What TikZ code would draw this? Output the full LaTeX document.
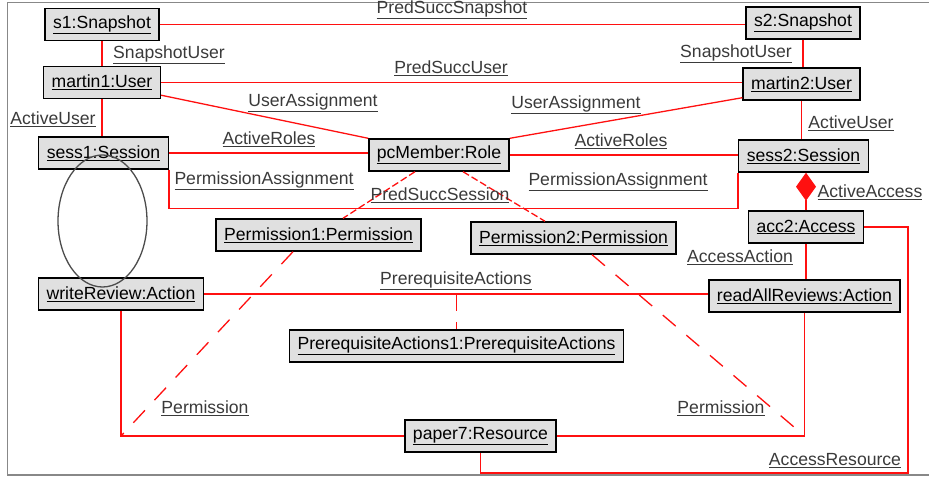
\documentclass[tikz,border=0pt]{standalone}
\usepackage{fontspec}
\setmainfont{Liberation Sans}
\usetikzlibrary{arrows.meta,calc}
\definecolor{objfill}{HTML}{E0E0E0}
\definecolor{lblgray}{HTML}{3A3A3A}
\definecolor{linkred}{HTML}{FF1010}
\definecolor{framegray}{HTML}{888888}
\newcommand\myul[1]{\underline{#1}}
\begin{document}
\begin{tikzpicture}[x=1pt,y=-1pt,
  obj/.style={draw=black, line width=1.4pt, fill=objfill, minimum height=32pt,
    inner xsep=8pt, inner ysep=0pt, font=\fontsize{17.6}{20}\selectfont},
  lbl/.style={text=lblgray, inner sep=0pt, font=\fontsize{17.6}{20}\selectfont},
  lnk/.style={draw=linkred, line width=1.3pt},
  fine/.style={lnk, dash pattern=on 7pt off 3pt},
  longdash/.style={lnk, dash pattern=on 17pt off 14pt}]
\useasboundingbox (0,0) rectangle (929,478);
\draw[framegray, line width=1.5pt] (929,2.5) -- (7.5,2.5) -- (7.5,475) -- (929,475);
% nodes
\node[obj] (s1) at (102,24.5) {\myul{s1:Snapshot}};
\node[obj] (s2) at (803,23) {\myul{s2:Snapshot}};
\node[obj] (martin1) at (102,82.5) {\myul{martin1:User}};
\node[obj] (martin2) at (801.5,84) {\myul{martin2:User}};
\node[obj] (sess1) at (103.5,153) {\myul{sess1:Session}};
\node[obj] (pcMember) at (439,155) {\myul{pcMember:Role}};
\node[obj] (sess2) at (803.5,156) {\myul{sess2:Session}};
\node[obj] (acc2) at (806,227) {\myul{acc2:Access}};
\node[obj] (perm1) at (318.5,235) {\myul{Permission1:Permission}};
\node[obj] (perm2) at (573.5,238) {\myul{Permission2:Permission}};
\node[obj] (write) at (121,294) {\myul{writeReview:Action}};
\node[obj] (readAll) at (804.5,296) {\myul{readAllReviews:Action}};
\node[obj] (prereq) at (456.5,346) {\myul{PrerequisiteActions1:PrerequisiteActions}};
\node[obj] (paper7) at (480.5,436) {\myul{paper7:Resource}};
\coordinate (arcorner) at (908,473);
% ellipse (drawn over the boxes)
\draw[black!70, line width=1.3pt] (102.5,221) ellipse [x radius=44.5pt, y radius=66pt];
% connectors
\draw[lnk] (s1.east) -- (s1.east -| s2.west);
\draw[lnk] (s1.south) -- (martin1.north);
\draw[lnk] (martin1.east) -- (martin1.east -| martin2.west);
\draw[lnk] (s2.south) -- (s2.south |- martin2.north);
\draw[lnk] ($(martin1.south east)+(0,-4)$) -- (pcMember.north west);
\draw[lnk] ($(martin2.south west)+(0,-3)$) -- (pcMember.north east);
\draw[lnk] (martin1.south) -- (martin1.south |- sess1.north);
\draw[lnk] (martin2.south) -- (martin2.south |- sess2.north);
\draw[lnk] (sess1.east) -- (sess1.east -| pcMember.west);
\draw[lnk] (pcMember.east) -- (pcMember.east -| sess2.west);
\draw[lnk] (sess1.south east) -- ++(0,39) -| (sess2.south west);
\draw[fine] ($(pcMember.south)+(-24,0)$) -- ($(perm1.north)+(24.5,0)$);
\draw[fine] ($(pcMember.south)+(24,0)$) -- ($(perm2.north)+(-28.5,0)$);
\draw[longdash] ($(perm1.south)+(-25.5,0)$) -- (write.south |- paper7.west);
\draw[longdash] ($(perm2.south)+(18.5,0)$) -- (readAll.south |- paper7.east);
\draw[lnk] (write.east) -- (write.east -| readAll.west);
\draw[lnk, dash pattern=on 17pt off 11pt] (prereq.north |- write.east) -- (prereq.north);
\draw[lnk] (write.south) |- (paper7.west);
\draw[lnk] (readAll.south) |- (paper7.east);
\draw[lnk] (acc2.south) -- (acc2.south |- readAll.north);
\draw[lnk, -{Diamond[length=28pt,width=20pt,fill=linkred]}] (acc2.north) -- (acc2.north |- sess2.south);
\draw[lnk] (acc2.east) -| (arcorner) -| (paper7.south);
% labels
\node[lbl] (l1) at (452,10) {\myul{PredSuccSnapshot}};
\node[lbl] (l2) at (169,55) {\myul{SnapshotUser}};
\node[lbl] (l3) at (451,68) {\myul{PredSuccUser}};
\node[lbl] (l4) at (736,54) {\myul{SnapshotUser}};
\node[lbl] (l5) at (313,103) {\myul{UserAssignment}};
\node[lbl] (l6) at (576,105) {\myul{UserAssignment}};
\node[lbl] (l7) at (53,119) {\myul{ActiveUser}};
\node[lbl] (l8) at (851,123) {\myul{ActiveUser}};
\node[lbl] (l9) at (269,139) {\myul{ActiveRoles}};
\node[lbl] (l10) at (621,141) {\myul{ActiveRoles}};
\node[lbl] (l11) at (264,181) {\myul{PermissionAssignment}};
\node[lbl] (l12) at (618,182) {\myul{PermissionAssignment}};
\node[lbl] (l13) at (440,195) {\myul{PredSuccSession}};
\node[lbl] (l14) at (870,192) {\myul{ActiveAccess}};
\node[lbl] (l15) at (740,257) {\myul{AccessAction}};
\node[lbl] (l16) at (456,281) {\myul{PrerequisiteActions}};
\node[lbl] (l17) at (205,408) {\myul{Permission}};
\node[lbl] (l18) at (721,408) {\myul{Permission}};
\node[lbl] (l19) at (835,461) {\myul{AccessResource}};
\end{tikzpicture}
\end{document}
